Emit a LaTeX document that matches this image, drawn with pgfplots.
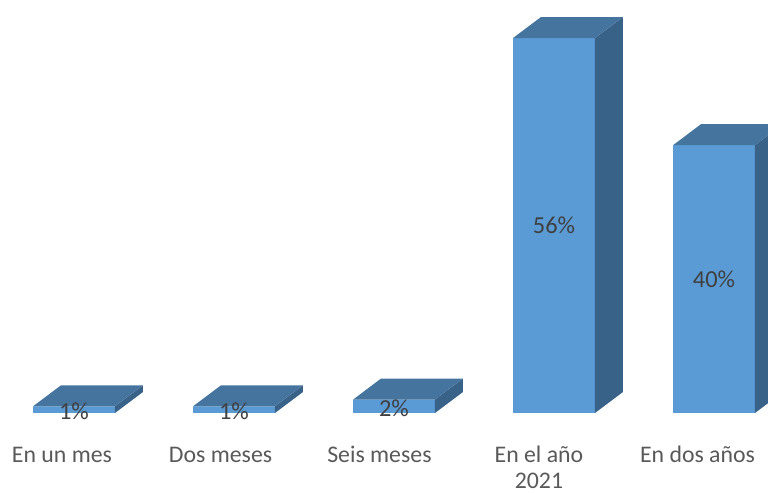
\documentclass[border=0pt]{standalone}
\usepackage{pgfplots}
\pgfplotsset{compat=1.18}
\usepackage{fontspec}
\setmainfont{Carlito}
\definecolor{barfront}{HTML}{5B9BD5}
\definecolor{bartop}{HTML}{45749F}
\definecolor{barside}{HTML}{396289}
\definecolor{labgray}{HTML}{595959}
\definecolor{valgray}{HTML}{404040}
\begin{document}
\begin{tikzpicture}
\begin{axis}[
  width=384pt, height=246pt, scale only axis,
  hide axis, clip=false,
  xmin=-0.4625, xmax=4.3375,
  ymin=-11.80, ymax=61.68,
]
% front faces
\addplot[ybar, bar width=0.5125, fill=barfront, draw=none] coordinates {(0,1)(1,1)(2,2)(3,56)(4,40)};
% side faces
\addplot[fill=barside, draw=none] coordinates {(0.256,0)(0.431,3.14)(0.431,4.14)(0.256,1)} -- cycle;
\addplot[fill=barside, draw=none] coordinates {(1.256,0)(1.431,3.14)(1.431,4.14)(1.256,1)} -- cycle;
\addplot[fill=barside, draw=none] coordinates {(2.256,0)(2.431,3.14)(2.431,5.14)(2.256,2)} -- cycle;
\addplot[fill=barside, draw=none] coordinates {(3.256,0)(3.431,3.14)(3.431,59.14)(3.256,56)} -- cycle;
\addplot[fill=barside, draw=none] coordinates {(4.256,0)(4.431,3.14)(4.431,43.14)(4.256,40)} -- cycle;
% top faces
\addplot[fill=bartop, draw=none] coordinates {(-0.256,1)(0.256,1)(0.431,4.14)(-0.081,4.14)} -- cycle;
\addplot[fill=bartop, draw=none] coordinates {(0.744,1)(1.256,1)(1.431,4.14)(0.919,4.14)} -- cycle;
\addplot[fill=bartop, draw=none] coordinates {(1.744,2)(2.256,2)(2.431,5.14)(1.919,5.14)} -- cycle;
\addplot[fill=bartop, draw=none] coordinates {(2.744,56)(3.256,56)(3.431,59.14)(2.919,59.14)} -- cycle;
\addplot[fill=bartop, draw=none] coordinates {(3.744,40)(4.256,40)(4.431,43.14)(3.919,43.14)} -- cycle;
% value labels
\begin{scope}[every node/.style={text=valgray, inner sep=0pt, font=\fontsize{12.2}{14}\selectfont}]
\node at (axis cs:0,0.2) {1\%};
\node at (axis cs:1,0.2) {1\%};
\node at (axis cs:2,0.7) {2\%};
\node at (axis cs:3,28) {56\%};
\node at (axis cs:4,20) {40\%};
\end{scope}
% category labels
\begin{scope}[every node/.style={text=labgray, inner sep=0pt, anchor=base, font=\fontsize{11.9}{14.5}\selectfont}]
\node at (axis cs:-0.075,-7.32) {En un mes};
\node at (axis cs:0.916,-7.32) {Dos meses};
\node at (axis cs:1.909,-7.32) {Seis meses};
\node at (axis cs:2.906,-7.32) {En el año};
\node at (axis cs:2.906,-11.30) {2021};
\node at (axis cs:3.897,-7.32) {En dos años};
\end{scope}
\end{axis}
\pgfresetboundingbox
\path[use as bounding box] (current axis.south west) rectangle (current axis.north east);
\end{tikzpicture}
\end{document}
